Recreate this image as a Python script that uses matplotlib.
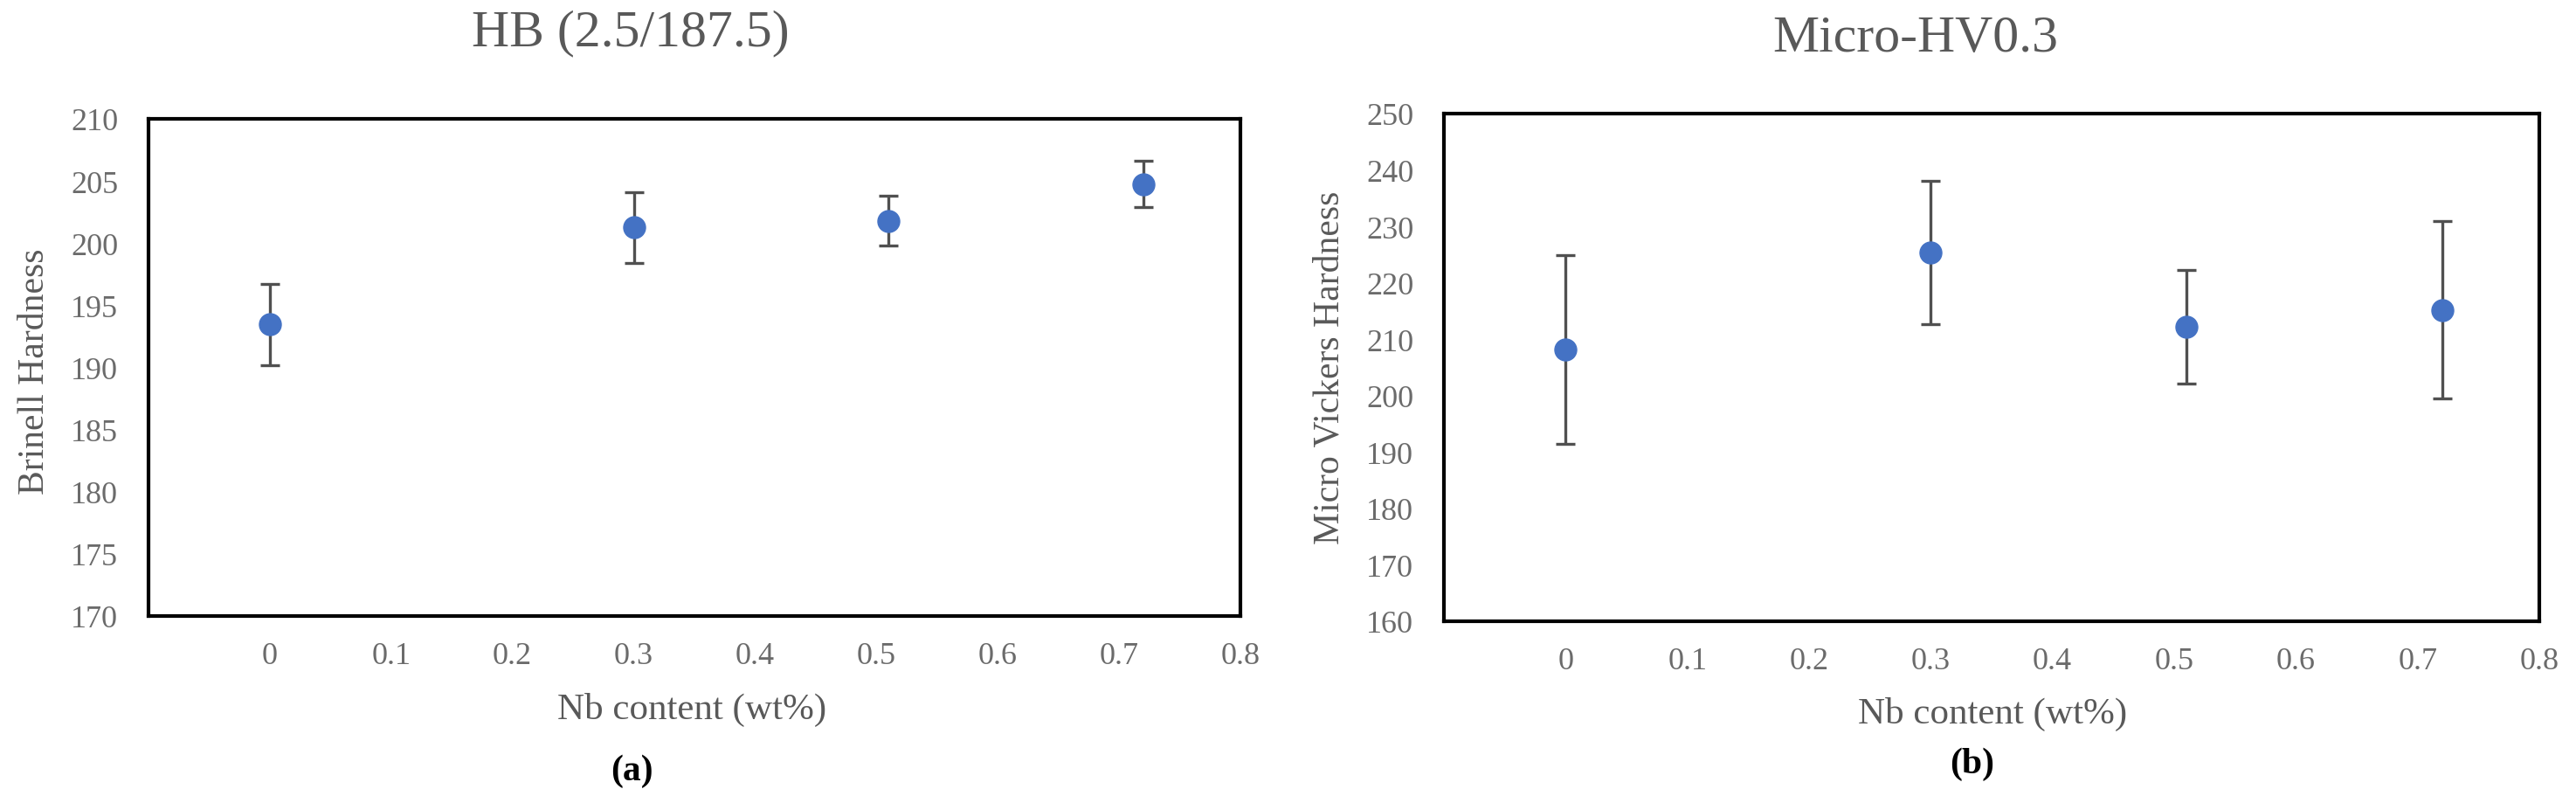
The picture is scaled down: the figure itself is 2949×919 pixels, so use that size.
import matplotlib
matplotlib.use("Agg")
import matplotlib.pyplot as plt

plt.rcParams["font.family"] = ["Liberation Serif", "DejaVu Serif"]

# data
nb = [0, 0.3, 0.51, 0.72]
hb = [193.45, 201.25, 201.8, 204.75]
hb_err = [3.25, 2.85, 2.0, 1.85]
hv = [208.2, 225.35, 212.2, 215.2]
hv_err = [16.7, 12.65, 10.1, 15.7]

xticks = [0, 0.1, 0.2, 0.3, 0.4, 0.5, 0.6, 0.7, 0.8]
xtick_labels = ["0", "0.1", "0.2", "0.3", "0.4", "0.5", "0.6", "0.7", "0.8"]
hb_ticks = list(range(170, 211, 5))
hv_ticks = list(range(160, 251, 10))

GREY = "#595959"
TICKGREY = "#6b6b6b"
BLUE = "#4472C4"
W, H = 2949, 920

fig = plt.figure(figsize=(W / 100, H / 100), dpi=100)

panels = [
    # axes box px (x0, x1, top, bottom), title, ylabel, data, yticks, title px, xlabel px, ylabel px, tag, tag px
    dict(box=(170, 1420, 137, 706), title="HB (2.5/187.5)", ylabel="Brinell Hardness",
         y=hb, err=hb_err, yticks=hb_ticks, tpos=(722, 47), xlpos=(792, 812),
         ylpos=(40, 425), tag="(a)", tagpos=(723, 883)),
    dict(box=(1653, 2907, 131, 712), title="Micro-HV0.3", ylabel="Micro Vickers Hardness",
         y=hv, err=hv_err, yticks=hv_ticks, tpos=(2193, 53), xlpos=(2281, 817),
         ylpos=(1522, 421), tag="(b)", tagpos=(2258, 875)),
]

for p in panels:
    x0, x1, top, bot = p["box"]
    ax = fig.add_axes([x0 / W, (H - bot) / H, (x1 - x0) / W, (bot - top) / H])
    ax.errorbar(nb, p["y"], yerr=p["err"], fmt="o", color=BLUE, ms=18,
                ecolor="#505050", elinewidth=2.4, capsize=8, capthick=2.4, zorder=3)
    ax.set_xlim(-0.1, 0.8)
    ax.set_ylim(p["yticks"][0], p["yticks"][-1])
    ax.set_xticks(xticks)
    ax.set_xticklabels(xtick_labels)
    ax.set_yticks(p["yticks"])
    ax.tick_params(axis="both", length=0, labelsize=26, labelcolor=TICKGREY)
    ax.tick_params(axis="x", pad=21)
    ax.tick_params(axis="y", pad=25)
    for s in ax.spines.values():
        s.set_linewidth(3)
        s.set_color("black")

    tx, ty = p["tpos"]
    ax.set_title(p["title"], x=(tx - x0) / (x1 - x0), y=(bot - ty) / (bot - top),
                 va="center", fontsize=43, color=GREY)

    ax.set_xlabel("Nb content (wt%)", fontsize=31, color=GREY)
    lx, ly = p["xlpos"]
    ax.xaxis.set_label_coords((lx - x0) / (x1 - x0), (bot - ly) / (bot - top))
    ax.xaxis.label.set_va("center")

    ax.set_ylabel(p["ylabel"], fontsize=30, color=GREY)
    yx, yy = p["ylpos"]
    ax.yaxis.set_label_coords((yx - x0) / (x1 - x0), (bot - yy) / (bot - top))
    ax.yaxis.label.set_va("center")

    gx, gy = p["tagpos"]
    fig.text(gx / W, 1 - gy / H, p["tag"], ha="center", va="center",
             fontsize=30, fontweight="bold", color="black")

fig.savefig("out.png", dpi=100, facecolor="white")
